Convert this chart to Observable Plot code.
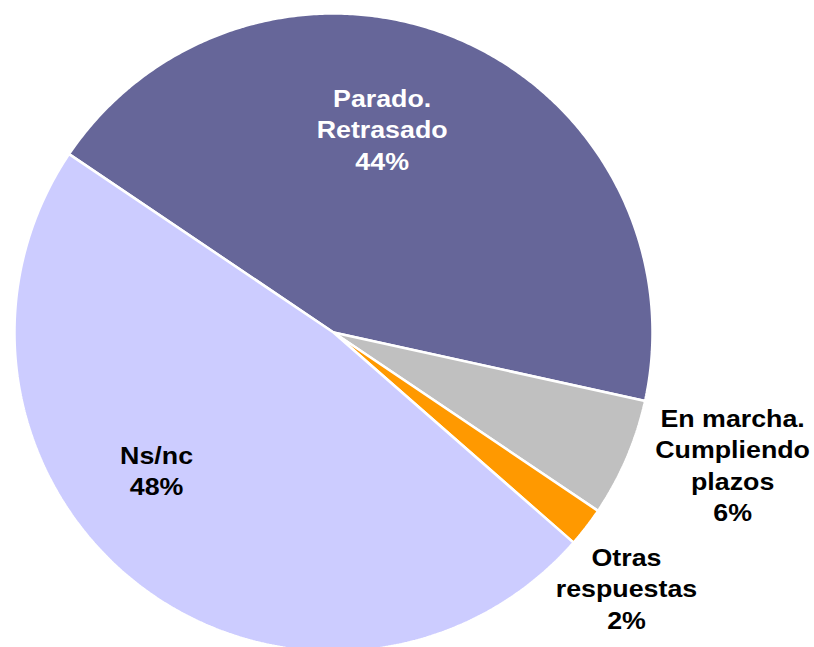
<!DOCTYPE html>
<html>
<head>
<meta charset="utf-8">
<script src="https://cdn.jsdelivr.net/npm/d3@7"></script>
<script src="https://cdn.jsdelivr.net/npm/@observablehq/plot@0.6"></script>
<style>
  html, body { margin: 0; padding: 0; background: #ffffff; }
  #chart svg { display: block; }
</style>
</head>
<body>
<div id="chart"></div>
<script>
// ---- data ----
const categories = ["Parado. Retrasado", "En marcha. Cumpliendo plazos", "Otras respuestas", "Ns/nc"];
const values = [44, 6, 2, 48];
const labelNames = ["Parado.\nRetrasado", "En marcha.\nCumpliendo\nplazos", "Otras\nrespuestas", "Ns/nc"];
const colors = ["#666699", "#C0C0C0", "#FF9900", "#CCCCFF"];
const textColors = ["#ffffff", "#000000", "#000000", "#000000"];

// ---- layout ----
const W = 814, H = 647;
const cx = 333, cy = 332, R = 319;
const startDeg = -56; // d3 convention (clockwise from 12 o'clock)
// label placement relative to slice mid-angle: radius factor and angular shift (deg, d3 convention)
const labelPlacement = [
  {r: 0.658, shift: -9.8},
  {r: 1.317, shift: -5.0},
  {r: 1.217, shift: 3.4},
  {r: 0.701, shift: 14.7}
];
const textStretch = 1.14;

const rows = categories.map((c, i) => ({category: c, value: values[i], i}));
const arcs = d3.pie().sort(null).value(d => d.value)
  .startAngle(startDeg * Math.PI / 180)
  .endAngle((startDeg + 360) * Math.PI / 180)(rows);

// slice outlines, sampled along the arc in data space (unit circle)
const slicePts = [];
arcs.forEach(a => {
  const cat = a.data.category;
  slicePts.push({category: cat, x: 0, y: 0});
  const n = Math.max(2, Math.ceil((a.endAngle - a.startAngle) / (Math.PI / 360)));
  for (let k = 0; k <= n; k++) {
    const t = a.startAngle + (a.endAngle - a.startAngle) * k / n;
    slicePts.push({category: cat, x: Math.sin(t), y: Math.cos(t)});
  }
  slicePts.push({category: cat, x: 0, y: 0});
});

const labels = arcs.map((a, i) => {
  const p = labelPlacement[i];
  const m = (a.startAngle + a.endAngle) / 2 + p.shift * Math.PI / 180;
  return {
    category: a.data.category,
    x: p.r * Math.sin(m),
    y: p.r * Math.cos(m),
    text: labelNames[i] + "\n" + a.data.value + "%",
    color: textColors[i]
  };
});

const plot = Plot.plot({
  width: W,
  height: H,
  margin: 0,
  style: {background: "#ffffff", overflow: "hidden"},
  x: {domain: [-1, 1], range: [cx - R, cx + R], axis: null},
  y: {domain: [-1, 1], range: [cy + R, cy - R], axis: null},
  color: {domain: categories, range: colors},
  marks: [
    Plot.line(slicePts, {
      x: "x", y: "y", z: "category",
      fill: "category",
      stroke: "#ffffff",
      strokeWidth: 2.5,
      strokeLinejoin: "miter",
      curve: "linear"
    }),
    Plot.text(labels, {
      x: "x", y: "y",
      text: "text",
      fill: d => d.color,
      fontSize: 23.5,
      fontWeight: "bold",
      fontFamily: "Liberation Sans, Arial, Helvetica, sans-serif",
      lineHeight: 1.34,
      textAnchor: "middle",
      lineAnchor: "middle"
    })
  ]
});

// stretch glyphs horizontally to match the wide bold lettering of the original
d3.select(plot).selectAll("text").each(function() {
  const t = this.getAttribute("transform");
  if (t && /translate/.test(t)) {
    this.setAttribute("transform", t + ` scale(${textStretch},1)`);
  } else {
    this.setAttribute("letter-spacing", "1.8px");
  }
});
document.getElementById("chart").appendChild(plot);
</script>
</body>
</html>
